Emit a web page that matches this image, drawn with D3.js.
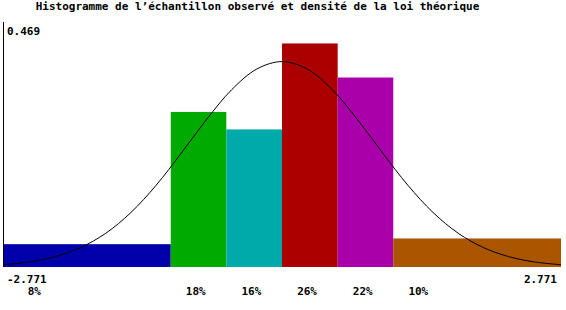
<!DOCTYPE html>
<html>
<head>
<meta charset="utf-8">
<script src="https://cdn.jsdelivr.net/npm/d3@7"></script>
<style>
  body { margin: 0; background: #fff; }
  text { font-family: "DejaVu Sans Mono", monospace; font-size: 11px; font-weight: bold; fill: #000; }
</style>
</head>
<body>
<script>
// bornes des classes et effectifs en %
const bornes = [-2.771, -1.105, -0.553, 0, 0.553, 1.105, 2.771]
const pourcentages = [8, 18, 16, 26, 22, 10]
const couleurs = ["#0000aa", "#00aa00", "#00aaaa", "#aa0000", "#aa00aa", "#aa5500"]
const yMax = 0.469

// densité théorique
const densX = [-2.771, -2.5, -2.25, -2, -1.75, -1.5, -1.25, -1, -0.75, -0.5, -0.25, 0,
               0.25, 0.5, 0.75, 1, 1.25, 1.5, 1.75, 2, 2.25, 2.5, 2.771]
const densY = [0.0047, 0.0109, 0.0219, 0.0409, 0.0710, 0.1147, 0.172, 0.2396, 0.3101, 0.3728, 0.4164, 0.432,
               0.4164, 0.3728, 0.3101, 0.2396, 0.172, 0.1147, 0.0710, 0.0409, 0.0219, 0.0109, 0.0047]

const titre = "Histogramme de l\u2019échantillon observé et densité de la loi théorique"

var width = 566, height = 310

var svg = d3.select("body").append("svg")
    .attr("width", width)
    .attr("height", height)

var x = d3.scaleLinear().domain([bornes[0], bornes[bornes.length - 1]]).range([3, 561])
var y = d3.scaleLinear().domain([0, yMax]).range([267, 44])

var classes = pourcentages.map((p, i) => ({
    x0: bornes[i], x1: bornes[i + 1], p: p,
    d: p / 100 / (bornes[i + 1] - bornes[i]), c: couleurs[i]
}))

// barres
svg.selectAll("rect.barre")
    .data(classes)
    .enter().append("rect")
        .attr("x", d => x(d.x0))
        .attr("y", d => y(d.d))
        .attr("width", d => x(d.x1) - x(d.x0))
        .attr("height", d => y(0) - y(d.d))
        .attr("fill", d => d.c)

// axe vertical
svg.append("line")
    .attr("x1", 3.5).attr("x2", 3.5)
    .attr("y1", 22).attr("y2", 267)
    .attr("stroke", "#000")

// courbe de densité
const pts = densX.map((v, i) => [v, densY[i]])
svg.append("path")
    .datum(pts)
    .attr("fill", "none")
    .attr("stroke", "#000")
    .attr("stroke-width", 1)
    .attr("d", d3.line().x(d => x(d[0])).y(d => y(d[1])).curve(d3.curveCatmullRom))

// textes
svg.append("text").attr("x", 257.5).attr("y", 10).attr("text-anchor", "middle").text(titre)
svg.append("text").attr("x", 7).attr("y", 35).text(yMax.toFixed(3))
svg.append("text").attr("x", 7).attr("y", 283).text(bornes[0].toFixed(3))
svg.append("text").attr("x", 557).attr("y", 283).attr("text-anchor", "end").text(bornes[bornes.length - 1].toFixed(3))

svg.selectAll("text.pct")
    .data(classes)
    .enter().append("text")
        .attr("class", "pct")
        .attr("x", (d, i) => x(d.x0) + (i == 0 ? 38 : 35))
        .attr("y", 295)
        .attr("text-anchor", "end")
        .text(d => d.p + "%")
</script>
</body>
</html>
